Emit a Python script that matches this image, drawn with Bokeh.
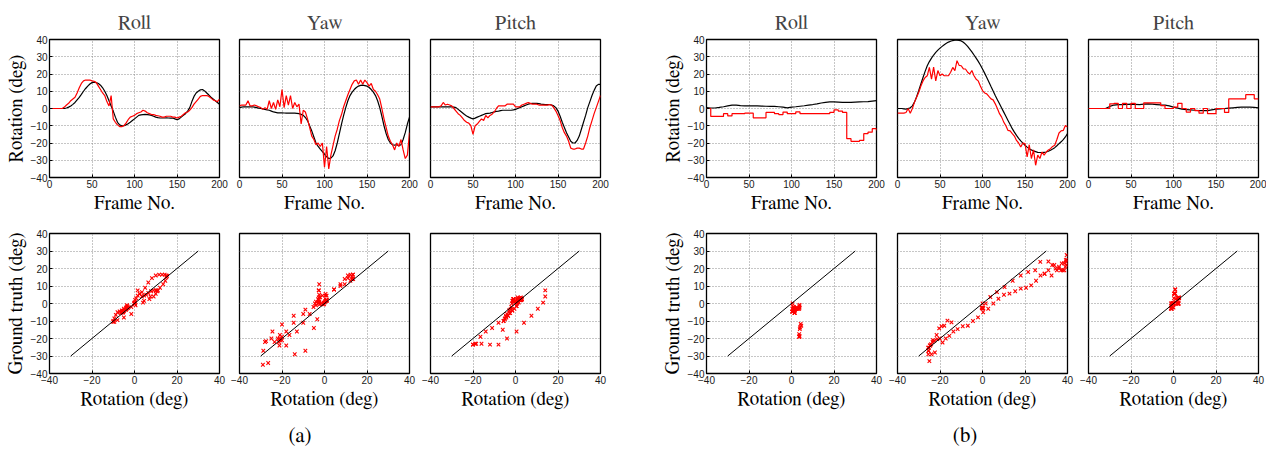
from bokeh.plotting import figure
from bokeh.layouts import row, column
from bokeh.models import Range1d, Div, Spacer
from bokeh.embed import file_html
from bokeh.resources import INLINE

# ---------------- data ----------------
frames = list(range(0, 201, 5))
frames_fine = [i * 2.5 for i in range(81)]
angles = ["Roll", "Yaw", "Pitch"]
y_ticks = [-40, -30, -20, -10, 0, 10, 20, 30, 40]
frame_ticks = [0, 50, 100, 150, 200]
rot_ticks = [-40, -20, 0, 20, 40]
diag = [-30, 30]

# (a) ground truth (black) and estimate (red), every 2.5 frames
roll_a_gt = [0, 0, 0, 0, 0, 0, 0, 0.1, 0.3, 0.8,
             1.5, 2.4, 3.5, 5, 6.5, 8.2, 10, 11.6, 13, 14.2,
             15, 15.3, 15, 14.5, 13.5, 12, 10, 7.5, 4.5, 1.5,
             -1.5, -5, -8, -9.5, -10, -10, -9.5, -8.8, -8, -7,
             -6, -5, -4, -3.7, -3.5, -3.4, -3.5, -3.7, -4, -4.5,
             -5, -5.3, -5.5, -5.5, -5.5, -5.4, -5.5, -5.6, -5.5, -6,
             -6.5, -6, -5, -4, -3, -1.5, 0.5, 4, 7, 9,
             10, 10.8, 11, 10.2, 9, 7.8, 6.5, 5.5, 4.5, 3.5,
             2.5]
roll_a_est = [0, 0, 0, 0, 0, 0, 0, 0.8, 2, 3,
              4.5, 5.5, 6.5, 9, 12, 14.5, 16, 16.5, 16.5, 16.5,
              16, 15.8, 15, 13, 11, 9, 7.5, 4, 1.5, 7.5,
              -6, -8, -9.5, -10.5, -10.5, -10, -8.5, -6.5, -5, -4.5,
              -4, -3, -2.5, -2, -1, -1.5, -2.5, -3, -3.5, -3.5,
              -4, -4.2, -4.5, -5, -5, -4.5, -4.5, -4.5, -5, -5,
              -5.5, -5, -4.5, -3.5, -2.5, -2, -1, 0.5, 2.5, 4,
              5.5, 7, 7.5, 7.5, 7.5, 7, 6, 5, 4.5, 4,
              5.5]
yaw_a_gt = [0.5, 0.8, 1, 1, 1, 1, 1, 0.8, 0.5, 0.2,
            0, -0.2, -0.5, -0.8, -1, -1.5, -2, -2.2, -2.5, -2.5,
            -2.5, -2.6, -2.7, -2.7, -2.7, -2.7, -2.7, -2.8, -3, -3.4,
            -4, -5.2, -7, -10, -13, -16.5, -20, -22, -23.5, -25,
            -26.5, -28, -29, -28.8, -27.5, -24.5, -20, -14.5, -9, -4,
            0.5, 4.5, 7.5, 9.5, 11, 12.2, 13, 13.4, 13.5, 13.3,
            13, 12.2, 11, 9.5, 7.5, 4.5, 0.5, -4.5, -10, -14.5,
            -18, -20, -21, -21.2, -21, -21.5, -21, -18, -14, -9,
            -5]
yaw_a_est = [1.5, 2, 2, 2, 4.5, 1.5, 1.5, 2, 1.5, 1,
             0.5, -0.5, 0.5, -0.5, 4.5, 0, 3.5, -0.5, 5, 1,
             11, 0.5, 7.5, 2, 7.5, 0, 3.5, 1, 2.5, -9,
             -1, -2, -6, -11, -16, -18, -21, -20, -22, -20,
             -34, -22, -35, -27, -21.5, -16, -12, -7, -3.5, 1,
             4.5, 8, 11, 14, 16, 16.5, 14, 16.5, 14, 16.5,
             15, 13, 14.5, 11, 10, 8, 5.5, 0, -6, -11,
             -16, -19, -21, -24, -20, -22, -18, -24, -29, -27,
             -14]
pitch_a_gt = [1, 1, 1, 1, 1, 1, 1, 1, 1, 1,
              1, 0.8, 0.5, -0.5, -1.5, -2.5, -3.5, -4.3, -5, -5.6,
              -6, -5.6, -5, -4.5, -4, -3.5, -3, -2.8, -2.7, -2.3,
              -2, -1.7, -1.5, -1.2, -1, -1, -1, -1, -1, -0.8,
              -0.5, 0, 0.5, 1, 1.5, 2, 2.5, 2.8, 3, 3,
              3, 2.8, 2.5, 2.4, 2.3, 2.3, 2.3, 2, 1.5, 0.5,
              -1.5, -4.5, -8, -11, -14, -16.5, -19, -20, -20, -18.5,
              -16, -12, -8, -4, 0.5, 4, 7.5, 10.5, 13, 14,
              14]
pitch_a_est = [1, 1, 1, 1, 1, 1.5, 3.5, 2, 2.5, 2,
               1.5, 0, -1.5, -3, -4, -5.5, -7, -8, -8.5, -10,
               -15, -10, -9, -7.5, -6, -7, -4, -5.5, -4, -3.3,
               -2, 0, 1.5, 1.5, 1.5, 1.5, 2.5, 2.5, 2.5, 2.5,
               1, 1, 1, 2, 2.5, 3, 3.5, 3, 2.5, 2.5,
               2.5, 2, 2, 2, 2, 2, 2.3, 2, 0.5, -1.5,
               -4, -7, -11, -14, -16, -19, -23, -23.5, -23.5, -23,
               -23, -23.5, -23.5, -20, -16, -11, -7, -3, 0.5, 4,
               7.5]

# (b) roll and pitch every 5 frames, yaw every 2.5 frames
roll_b_gt = [0.5, 0.3, 0.3, 0.6, 1, 1.5, 2, 2, 1.7, 1.5, 1.5, 1.5, 1.5, 1.4, 1.3, 1.2, 1.2, 1, 0.8, 0.4,
             0.8, 1, 1.3, 1.6, 2, 2.3, 2.7, 3.2, 3.6, 3.8, 3.8, 3.7, 3.6, 3.6, 3.6, 3.7, 3.8, 3.9, 4, 4.3, 4.6]
roll_b_est = [0, -4.6, -4.6, -4.6, -3, -4.3, -3, -3, -3, -2.7, -2.7, -5.4, -5.4, -5.4, -2.3, -2.3, -3, -3.5, -2.1, -3,
              -3, -2, -3, -3, -3, -3, -3, -3, -3, -2.3, -0.8, -1.5, -2.3, -17.5, -19, -19, -18.5, -14.6, -13.7, -11.7, -12.7]
yaw_b_gt = [0, 0, 0, -0.2, -0.4, 0, 0.4, 1.5, 3.7, 6.8, 10.4, 14.2, 18, 21.5, 24.8, 27.2, 29.2, 31, 32.5, 33.8,
            35, 36, 37, 37.8, 38.5, 39, 39.4, 39.6, 39.6, 39.5, 39.2, 38.4, 37.3, 36, 34.4, 32.8, 31, 29.2, 27.3, 25.2,
            22.9, 20.5, 18, 15.4, 12.7, 10.1, 7.5, 5.1, 2.7, 0.3, -2.1, -4.5, -6.9, -9.3, -11.7, -13.7, -15.6, -17.3, -18.8, -20.1,
            -21.3, -22.4, -23.3, -24, -24.6, -25, -25.4, -25.5, -25.6, -25.4, -25.2, -24.8, -24.2, -23.5, -22.7, -21.6, -20.4, -19.3, -18, -16.5, -14.6]
yaw_b_est = [-2.7, -2.7, -2.7, -2.7, -2.3, 0, -2.7, 0, 3.7, 6.5, 9.4, 13, 16, 18, 19, 23.8, 17, 24, 16, 22,
             19, 20, 19, 19, 19, 21, 23.8, 22, 27.7, 25, 24.8, 23, 22.9, 21, 20, 22, 19, 17, 16, 13,
             10.4, 9, 8.5, 7, 5.6, 5, 2.7, 0, -3, -5, -7.9, -10, -12.7, -13, -14.6, -16, -18.5, -20, -22.3, -20,
             -20.4, -28, -21, -29, -24, -32.9, -27, -29, -25.2, -27, -25.2, -24, -23.3, -22, -21.3, -18, -14.2, -13, -12.7, -9.8, -10.8]
pitch_b_gt = [0, 0, 0, 0, 0, 1.2, 2, 2.2, 2.3, 2.4, 2.5, 2.4, 2.3, 2.5, 2.7, 2.5, 2.3, 2.1, 2, 1.5,
              0.8, 0.2, -0.4, -0.6, -0.8, -1, -1.2, -1.2, -1.2, -0.8, -0.4, -0.2, 0, 0.2, 0.4, 0.6, 0.8, 0.8, 0.8, 0.6, 0.4]
pitch_b_est = [0, 0, 0, 0, 0, 2.7, 3, 0, 3, 0, 3, 0, 0, 3.3, 3.3, 3.3, 3.3, 1.7, 0, 0,
               0.8, 3, 0, -2.1, 0, -1.2, -2.7, 0, -3, -3, 0, 0, -2.3, 5.6, 5.6, 5.6, 5.6, 8, 8, 5.6, 5.6]

panels = [
    (frames_fine, roll_a_gt, roll_a_est), (frames_fine, yaw_a_gt, yaw_a_est), (frames_fine, pitch_a_gt, pitch_a_est),
    (frames, roll_b_gt, roll_b_est), (frames_fine, yaw_b_gt, yaw_b_est), (frames, pitch_b_gt, pitch_b_est),
]

# ---------------- styling / layout ----------------
SANS = "Liberation Sans"
SERIF = "FreeSerif"


def minus(ticks):
    return {t: ("\u2212" + str(abs(t)) if t < 0 else str(t)) for t in ticks}


# (width, min_border_left, min_border_right) per column
cols = [(229, 49, 10), (191, 10, 11), (190, 10, 10), (277, 96, 11), (191, 10, 11), (188, 10, 8)]


def style(p, xticks, first, ylabel, xlabel):
    p.xaxis.ticker = xticks
    p.yaxis.ticker = y_ticks
    p.xgrid.ticker = p.xaxis[0].ticker
    p.ygrid.ticker = p.yaxis[0].ticker
    for g in (p.xgrid, p.ygrid):
        g.grid_line_color = "#8c8c8c"
        g.grid_line_dash = "1 2"
        g.grid_line_width = 1
    for ax in (p.xaxis, p.yaxis):
        ax.axis_line_color = None
        ax.major_tick_in = 3
        ax.major_tick_out = 0
        ax.major_tick_line_color = "black"
        ax.minor_tick_line_color = None
        ax.major_label_text_font = SANS
        ax.major_label_text_font_size = "10px"
        ax.major_label_text_color = "#1a1a1a"
        ax.major_label_standoff = 2
        ax.axis_label_text_font = SERIF
        ax.axis_label_text_font_size = "19px"
        ax.axis_label_text_font_style = "normal"
        ax.axis_label_text_color = "black"
    p.xaxis.major_label_overrides = minus(xticks)
    p.xaxis.axis_label = xlabel
    p.xaxis.axis_label_standoff = 3
    if first:
        p.yaxis.major_label_overrides = minus(y_ticks)
        p.yaxis.axis_label = ylabel
        p.yaxis.axis_label_standoff = 2
        p.yaxis.major_label_standoff = 2
    else:
        p.yaxis.visible = False


top_figs, bot_figs = [], []
for i, (fr, gt, est) in enumerate(panels):
    w, bl, br = cols[i]
    first = i in (0, 3)
    p = figure(width=w, height=215, x_range=Range1d(0, 200), y_range=Range1d(-40, 40),
               output_backend="svg", toolbar_location=None,
               min_border_left=bl, min_border_right=br, min_border_top=39, min_border_bottom=38,
               outline_line_color="black", outline_line_width=1.3)
    p.title.text = angles[i % 3]
    p.title.align = "center"
    p.title.text_font = SERIF
    p.title.text_font_size = "20px"
    p.title.text_font_style = "normal"
    p.title.standoff = 14
    style(p, frame_ticks, first, "Rotation (deg)", "Frame No.")
    p.line(fr, gt, color="black", line_width=1.2)
    if i in (3, 5):
        p.step(fr, est, color="red", line_width=1.2, mode="after")
    else:
        p.line(fr, est, color="red", line_width=1.2)
    top_figs.append(p)

    q = figure(width=w, height=206, x_range=Range1d(-40, 40), y_range=Range1d(-40, 40),
               output_backend="svg", toolbar_location=None,
               min_border_left=bl, min_border_right=br, min_border_top=18, min_border_bottom=48,
               outline_line_color="black", outline_line_width=1.3)
    style(q, rot_ticks, first, "Ground truth (deg)", "Rotation (deg)")
    q.scatter(gt, est, marker="x", size=5, color="red", line_width=1.1)
    q.line(diag, diag, color="black", line_width=1)
    bot_figs.append(q)

cap_style = {"font-family": SERIF, "font-size": "21px", "text-align": "center",
             "line-height": "30px", "color": "black"}
cap_a = Div(text="(a)", width=600, height=28, margin=0, styles=cap_style)
cap_b = Div(text="(b)", width=600, height=28, margin=0, styles=cap_style)

layout = column(row(*top_figs), row(*bot_figs),
                row(cap_a, Spacer(width=65, height=28), cap_b))

open("out.html", "w").write(file_html(layout, INLINE))
